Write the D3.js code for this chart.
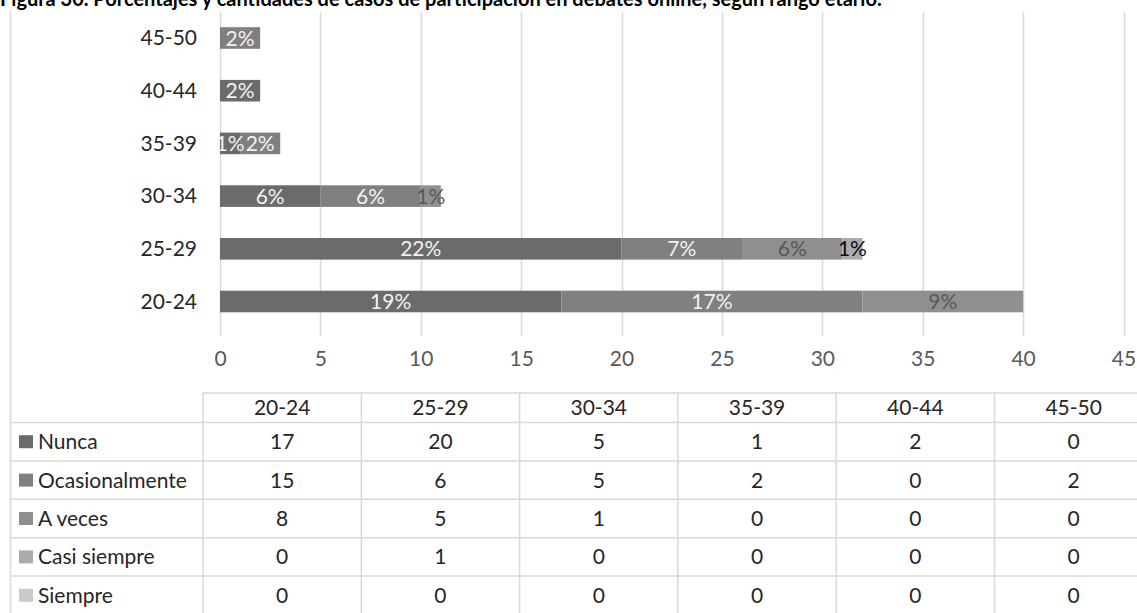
<!DOCTYPE html>
<html>
<head>
<meta charset="utf-8">
<script src="https://cdn.jsdelivr.net/npm/d3@7"></script>
<style>
  html, body { margin: 0; padding: 0; background: #fff; }
  svg { display: block; font-family: Lato, "Open Sans", sans-serif; }
</style>
</head>
<body>
<svg id="chart" width="1137" height="613"></svg>
<script>
// Age groups (bottom-to-top in the bar chart, left-to-right in the table)
const ageGroups = ["20-24", "25-29", "30-34", "35-39", "40-44", "45-50"];
// Response categories, in stacking order
const responses = ["Nunca", "Ocasionalmente", "A veces", "Casi siempre", "Siempre"];
// Case counts per response, one value per age group
const nunca          = [17, 20, 5, 1, 2, 0];
const ocasionalmente = [15, 6, 5, 2, 0, 2];
const aVeces         = [8, 5, 1, 0, 0, 0];
const casiSiempre    = [0, 1, 0, 0, 0, 0];
const siempre        = [0, 0, 0, 0, 0, 0];
// Value axis ticks
const xTicks = [0, 5, 10, 15, 20, 25, 30, 35, 40, 45];

const title = "Figura 30. Porcentajes y cantidades de casos de participación en debates online, según rango etario.";

const seriesValues = [nunca, ocasionalmente, aVeces, casiSiempre, siempre];
const fills      = ["#6b6b6b", "#808080", "#8f8f8f", "#ababab", "#cacaca"];
const labelFills = ["#f2f2f2", "#f2f2f2", "#595959", "#0d0d0d", "#0d0d0d"];

const rows = ageGroups.map((g, i) => {
  const r = { group: g };
  responses.forEach((s, k) => { r[s] = seriesValues[k][i]; });
  return r;
});
const total = d3.sum(seriesValues.flat());
const pct = v => Math.round(v / total * 100) + "%";

const svg = d3.select("#chart");
const W = 1137, H = 613;

// ---- scales ----
const x = d3.scaleLinear().domain([0, 45]).range([220, 1123.5]);
const y = d3.scaleBand()
  .domain(ageGroups.slice().reverse())
  .range([11.65, 327.85])
  .paddingInner(0.59)
  .paddingOuter(0.295);

// ---- title (cut at the top edge) ----
svg.append("text")
  .attr("x", 0).attr("y", 6)
  .attr("font-size", 20).attr("font-weight", 700)
  .attr("fill", "#000")
  .text(title);

// ---- frame line on the left ----
svg.append("line")
  .attr("x1", 10.5).attr("x2", 10.5).attr("y1", 10).attr("y2", H)
  .attr("stroke", "#d9d9d9").attr("stroke-width", 1.5);

// ---- vertical gridlines ----
svg.append("g").selectAll("line").data(xTicks).join("line")
  .attr("x1", d => Math.round(x(d)) + 0.5).attr("x2", d => Math.round(x(d)) + 0.5)
  .attr("y1", 12).attr("y2", 336)
  .attr("stroke", "#d9d9d9").attr("stroke-width", 1.5);

// ---- value axis ----
const xAxis = d3.axisBottom(x).tickValues(xTicks).tickSize(0).tickPadding(0);
const gx = svg.append("g").attr("transform", "translate(0,359)").call(xAxis);
gx.select(".domain").remove();
gx.selectAll("text")
  .attr("font-family", "Lato, sans-serif").attr("font-size", 21)
  .attr("fill", "#595959").attr("dy", "0.35em").attr("y", 0);

// ---- category axis ----
const yAxis = d3.axisLeft(y).tickSize(0).tickPadding(0);
const gy = svg.append("g").attr("transform", "translate(197,0)").call(yAxis);
gy.select(".domain").remove();
gy.selectAll("text")
  .attr("font-family", "Lato, sans-serif").attr("font-size", 21)
  .attr("fill", "#262626").attr("x", 0).attr("dy", "0.35em");

// ---- stacked bars ----
const stack = d3.stack().keys(responses)(rows);
const layers = svg.append("g").selectAll("g").data(stack).join("g")
  .attr("fill", (d, k) => fills[k]);
layers.selectAll("rect").data(d => d.filter(p => p[1] > p[0])).join("rect")
  .attr("x", p => x(p[0]))
  .attr("width", p => x(p[1]) - x(p[0]))
  .attr("y", p => y(p.data.group))
  .attr("height", y.bandwidth());

// ---- percentage labels ----
const lab = svg.append("g").attr("text-anchor", "middle")
  .attr("font-size", 21);
stack.forEach((layer, k) => {
  lab.append("g").attr("fill", labelFills[k])
    .selectAll("text").data(layer.filter(p => p[1] > p[0])).join("text")
    .attr("x", p => (x(p[0]) + x(p[1])) / 2)
    .attr("y", p => y(p.data.group) + y.bandwidth() / 2)
    .attr("dy", "0.36em")
    .text(p => pct(p[1] - p[0]));
});

// ---- data table ----
const tLeft = 10, colStart = 203, colW = 158.3;
const headTop = 393, headBottom = 422.5, rowH = 38.4;
const col = d3.scaleBand().domain(ageGroups).range([colStart, colStart + colW * ageGroups.length]);
const rowY = d3.scaleBand().domain(responses)
  .range([headBottom, headBottom + rowH * responses.length]);

const table = svg.append("g");
const lineStyle = sel => sel.attr("stroke", "#d9d9d9").attr("stroke-width", 1.5);

// header top line
table.append("line").call(lineStyle)
  .attr("x1", colStart).attr("x2", W).attr("y1", headTop).attr("y2", headTop);
// row separators
table.selectAll("line.row").data(responses).join("line").attr("class", "row").call(lineStyle)
  .attr("x1", tLeft).attr("x2", W)
  .attr("y1", d => rowY(d)).attr("y2", d => rowY(d));
// column separators
table.selectAll("line.col").data(ageGroups).join("line").attr("class", "col").call(lineStyle)
  .attr("x1", d => col(d)).attr("x2", d => col(d))
  .attr("y1", headTop).attr("y2", H);

// header labels
table.selectAll("text.head").data(ageGroups).join("text").attr("class", "head")
  .attr("x", d => col(d) + col.bandwidth() / 2)
  .attr("y", (headTop + headBottom) / 2)
  .attr("dy", "0.36em").attr("text-anchor", "middle")
  .attr("font-size", 21).attr("fill", "#262626")
  .text(d => d);

// legend keys and row names
const rg = table.selectAll("g.r").data(responses).join("g").attr("class", "r")
  .attr("transform", d => `translate(0,${rowY(d) + rowY.bandwidth() / 2})`);
rg.append("rect")
  .attr("x", 19).attr("y", -6.5).attr("width", 14).attr("height", 13)
  .attr("fill", (d, k) => fills[k]);
rg.append("text")
  .attr("x", 38).attr("dy", "0.36em")
  .attr("font-size", 21).attr("fill", "#262626")
  .text(d => d);
// cell values
rg.each(function (s, k) {
  d3.select(this).selectAll("text.v").data(ageGroups).join("text").attr("class", "v")
    .attr("x", g => col(g) + col.bandwidth() / 2)
    .attr("dy", "0.36em").attr("text-anchor", "middle")
    .attr("font-size", 21).attr("fill", "#262626")
    .text((g, i) => seriesValues[k][i]);
});
</script>
</body>
</html>
